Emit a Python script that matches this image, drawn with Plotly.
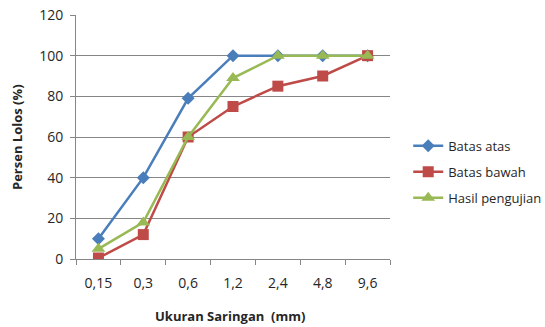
import plotly.graph_objects as go

categories = ["0,15", "0,3", "0,6", "1,2", "2,4", "4,8", "9,6"]
batas_atas = [10, 40, 79, 100, 100, 100, 100]
batas_bawah = [0.5, 12, 60, 75, 85, 90, 100]
hasil_pengujian = [5, 18, 60, 89, 100, 100, 100]

fig = go.Figure()
fig.add_trace(go.Scatter(x=categories, y=batas_atas, name="Batas atas", mode="lines+markers",
                         line=dict(color="#4a7ebb", width=2.5),
                         marker=dict(symbol="diamond", size=10, color="#4a7ebb"),
                         legendgroup="a"))
fig.add_trace(go.Scatter(x=categories, y=batas_bawah, name="Batas bawah", mode="lines+markers",
                         line=dict(color="#be4b48", width=2.5),
                         marker=dict(symbol="square", size=11, color="#be4b48"),
                         legendgroup="b"))
fig.add_trace(go.Scatter(x=categories, y=hasil_pengujian, name="Hasil pengujian", mode="lines+markers",
                         line=dict(color="#98b954", width=2.5),
                         marker=dict(symbol="triangle-up", size=12, color="#98b954"),
                         legendgroup="c"))

font_family = "Open Sans, Liberation Sans, sans-serif"
fig.update_layout(
    width=545, height=327,
    margin=dict(l=76, r=155, t=15, b=68, autoexpand=False),
    paper_bgcolor="white", plot_bgcolor="white",
    font=dict(family=font_family, size=13, color="#262626"),
    showlegend=True,
    legend=dict(x=1.058, y=0.357, xanchor="left", yanchor="middle",
                font=dict(size=13, color="#262626"), tracegroupgap=6,
                itemwidth=30, bgcolor="rgba(0,0,0,0)"),
    xaxis=dict(type="category", showgrid=False, showline=True, linecolor="#868686", linewidth=1,
               ticks="outside", tickson="boundaries", ticklen=5, tickcolor="#868686",
               tickfont=dict(size=14), range=[-0.5, 6.5], automargin=False,
               ticklabelstandoff=11),
    yaxis=dict(range=[0, 120], dtick=20, showgrid=True, gridcolor="#868686", gridwidth=1,
               showline=True, linecolor="#868686", linewidth=1, ticks="outside", ticklen=5,
               tickcolor="#868686", tickfont=dict(size=14), zeroline=False, automargin=False,
               ticklabelstandoff=4),
    annotations=[
        dict(text="<b>Ukuran Saringan  (mm)</b>", x=0.49, y=316, xref="paper", yref="paper",
             showarrow=False, font=dict(size=13), xanchor="center", yanchor="middle"),
        dict(text="<b>Persen Lolos (%)</b>", x=17, y=0.5, xref="paper", yref="paper",
             showarrow=False, font=dict(size=13), textangle=-90, xanchor="center", yanchor="middle"),
    ],
)
# place the titles in pixel terms relative to the plot area
plot_w = 545 - 76 - 155
plot_h = 327 - 15 - 68
fig.layout.annotations[0].y = (259 - 316) / plot_h
fig.layout.annotations[1].x = (17 - 76) / plot_w

fig.write_html("out.html")
